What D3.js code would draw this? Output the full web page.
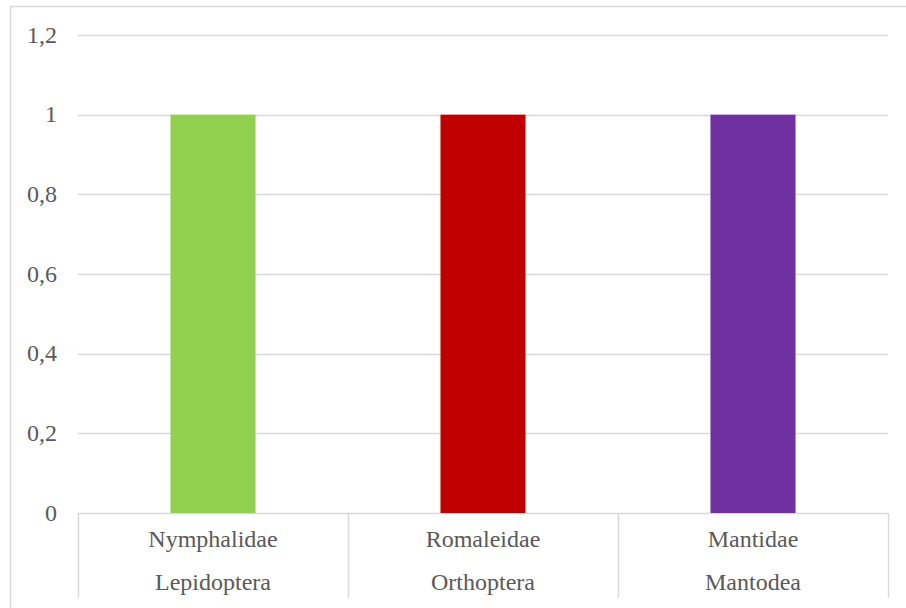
<!DOCTYPE html>
<html>
<head>
<meta charset="utf-8">
<script src="https://cdn.jsdelivr.net/npm/d3@7"></script>
<style>
  body { margin: 0; background: #fff; }
  svg { display: block; }
  text { font-family: "Liberation Serif", "Times New Roman", serif; fill: #595959; }
</style>
</head>
<body>
<svg class="chart" width="906" height="608"></svg>
<script>
var families = ["Nymphalidae", "Romaleidae", "Mantidae"];
var orders = ["Lepidoptera", "Orthoptera", "Mantodea"];
var values = [1, 1, 1];
var barColors = ["#92d050", "#c00000", "#7030a0"];
var yTicks = [0, 0.2, 0.4, 0.6, 0.8, 1, 1.2];

var svg = d3.select(".chart");

// outer chart frame (runs past the right and bottom edge)
svg.append("rect")
    .attr("x", 10.5)
    .attr("y", 6.5)
    .attr("width", 920)
    .attr("height", 640)
    .attr("fill", "none")
    .attr("stroke", "#d9d9d9")
    .attr("stroke-width", 1.5);

var plotLeft = 78, plotRight = 888, plotTop = 35, plotBottom = 513;

var xScale = d3.scaleBand().domain(families).range([plotLeft, plotRight]);
var yScale = d3.scaleLinear().domain([0, 1.2]).range([plotBottom, plotTop]);

// gridlines
svg.append("g")
    .selectAll("line")
    .data(yTicks)
    .enter()
    .append("line")
    .attr("x1", plotLeft)
    .attr("x2", plotRight)
    .attr("y1", function(d) { return Math.round(yScale(d)) + 0.5; })
    .attr("y2", function(d) { return Math.round(yScale(d)) + 0.5; })
    .attr("stroke", "#d9d9d9")
    .attr("stroke-width", 1.5);

// y tick labels
svg.append("g")
    .selectAll("text")
    .data(yTicks)
    .enter()
    .append("text")
    .attr("x", 57)
    .attr("y", function(d) { return yScale(d); })
    .attr("dy", "0.32em")
    .attr("text-anchor", "end")
    .style("font-size", "24px")
    .text(function(d) { return String(d).replace(".", ","); });

// bars
var barW = xScale.bandwidth() * 0.315;
svg.append("g")
    .selectAll("rect")
    .data(values)
    .enter()
    .append("rect")
    .attr("x", function(d, i) { return xScale(families[i]) + (xScale.bandwidth() - barW) / 2; })
    .attr("y", function(d) { return yScale(d); })
    .attr("width", barW)
    .attr("height", function(d) { return plotBottom - yScale(d); })
    .attr("fill", function(d, i) { return barColors[i]; });

// category separators
var seps = families.map(function(f) { return xScale(f); }).concat([plotRight]);
svg.append("g")
    .selectAll("line")
    .data(seps)
    .enter()
    .append("line")
    .attr("x1", function(d) { return Math.round(d) + 0.5; })
    .attr("x2", function(d) { return Math.round(d) + 0.5; })
    .attr("y1", plotBottom)
    .attr("y2", 598)
    .attr("stroke", "#d9d9d9")
    .attr("stroke-width", 1.5);

// two-level category labels
var labels = svg.append("g");
labels.selectAll(".fam")
    .data(families)
    .enter()
    .append("text")
    .attr("class", "fam")
    .attr("x", function(d) { return xScale(d) + xScale.bandwidth() / 2; })
    .attr("y", 547)
    .attr("text-anchor", "middle")
    .style("font-size", "24px")
    .text(function(d) { return d; });

labels.selectAll(".ord")
    .data(orders)
    .enter()
    .append("text")
    .attr("class", "ord")
    .attr("x", function(d, i) { return xScale(families[i]) + xScale.bandwidth() / 2; })
    .attr("y", 590)
    .attr("text-anchor", "middle")
    .style("font-size", "24px")
    .text(function(d) { return d; });
</script>
</body>
</html>
